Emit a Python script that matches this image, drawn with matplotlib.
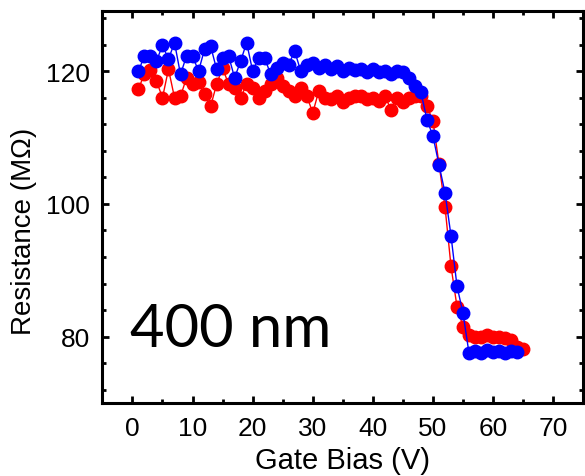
import matplotlib
matplotlib.use('Agg')
import matplotlib.pyplot as plt
from matplotlib.ticker import MultipleLocator

# gate bias (V)
v_red = list(range(1, 66))
v_blue = list(range(1, 65))

# resistance (MOhm)
r_red = [117.3, 119.6, 120.1, 118.5, 116.0, 120.3, 116.0, 116.2, 119.0, 118.0,
         118.3, 116.5, 114.7, 118.0, 120.5, 118.0, 117.5, 116.0, 118.0, 117.5,
         116.0, 117.0, 118.0, 119.0, 117.8, 117.0, 116.3, 117.5, 116.3, 113.7,
         117.0, 116.0, 115.8, 116.3, 115.3, 116.0, 116.3, 116.3, 115.8, 116.0,
         115.5, 116.3, 114.2, 116.0, 115.3, 116.0, 116.3, 116.3, 114.7, 112.5,
         106.0, 99.6, 90.6, 84.5, 81.5, 80.3, 80.0, 80.0, 80.2, 80.0,
         80.0, 79.8, 79.5, 78.5, 78.2]
r_blue = [120.0, 122.3, 122.3, 121.5, 123.9, 121.8, 124.3, 119.5, 122.3, 122.3,
          120.0, 123.3, 123.8, 120.3, 122.0, 122.3, 119.0, 121.5, 124.3, 120.0,
          122.0, 122.0, 119.5, 120.5, 121.3, 121.0, 123.0, 120.0, 121.0, 121.3,
          120.5, 121.0, 120.3, 120.8, 120.0, 120.5, 120.2, 120.3, 119.8, 120.3,
          119.8, 120.0, 119.5, 120.0, 119.8, 119.0, 117.8, 116.8, 112.7, 110.2,
          105.9, 101.7, 95.2, 87.6, 83.5, 77.5, 77.8, 77.6, 78.0, 77.7,
          77.9, 77.6, 77.8, 77.7]

fig = plt.figure(figsize=(5.85, 4.77), dpi=100)
ax = fig.add_axes([0.175, 0.153, 0.822, 0.821])

ax.plot(v_red, r_red, '-o', color='#ff0000', lw=1, ms=9, mec='#ff0000')
ax.plot(v_blue, r_blue, '-o', color='#0000ff', lw=1, ms=9, mec='#0000ff')

ax.set_xlim(-5, 75)
ax.set_ylim(70, 129)
ax.xaxis.set_major_locator(MultipleLocator(10))
ax.xaxis.set_minor_locator(MultipleLocator(5))
ax.yaxis.set_major_locator(MultipleLocator(20))
ax.yaxis.set_minor_locator(MultipleLocator(4))

for s in ax.spines.values():
    s.set_linewidth(2.2)
ax.tick_params(which='both', direction='in', top=True, right=True, width=2)
ax.tick_params(which='major', length=5, labelsize=19, pad=9)
ax.tick_params(which='minor', length=3)
for lab in ax.get_xticklabels() + ax.get_yticklabels():
    lab.set_family('Liberation Sans')

ax.set_xlabel('Gate Bias (V)', fontsize=21, family='Liberation Sans', labelpad=5)
ax.set_ylabel('Resistance (M\u03a9)', fontsize=20, family='Liberation Sans')
ax.yaxis.set_label_coords(-0.135, 0.44)

ax.text(0.057, 0.145, '400 nm', transform=ax.transAxes, fontsize=43,
        family=['Lato', 'Open Sans', 'DejaVu Sans'])

fig.savefig('out.png', dpi=100)
